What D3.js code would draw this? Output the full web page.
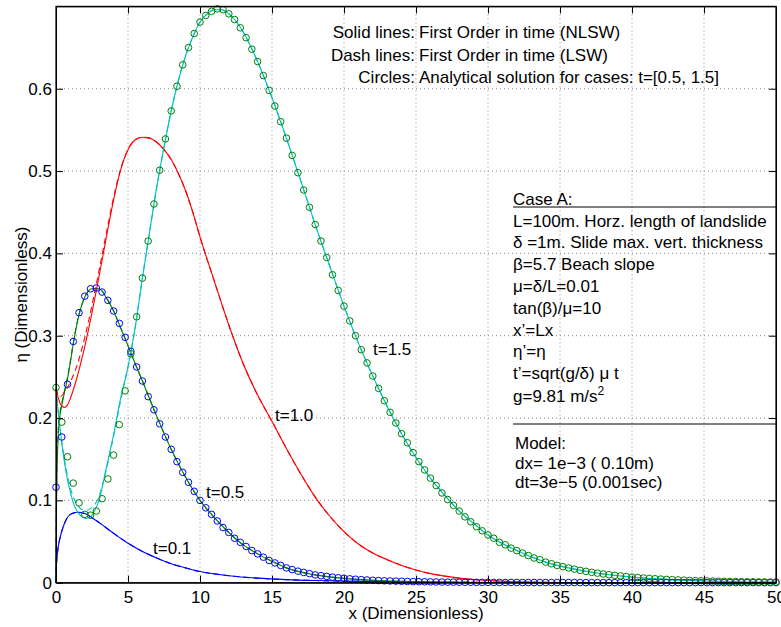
<!DOCTYPE html>
<html>
<head>
<meta charset="utf-8">
<script src="https://cdn.jsdelivr.net/npm/d3@7"></script>
<style>
  body { margin: 0; background: #fff; }
  text { font-family: "Liberation Sans", Arial, Helvetica, sans-serif; font-size: 17px; fill: #000; }
</style>
</head>
<body>
<div id="chart"></div>
<script>
// axis ticks
const xTicks = [0, 5, 10, 15, 20, 25, 30, 35, 40, 45, 50];
const yTicks = [0, 0.1, 0.2, 0.3, 0.4, 0.5, 0.6];

// NLSW solid lines
const t01X = [0, 0.02, 0.05, 0.1, 0.2, 0.3, 0.5, 0.75, 1.0, 1.5, 2, 2.5, 3, 4, 5, 6, 7, 8, 9, 10, 12, 14, 16, 18, 20, 25, 30, 40, 50];
const t01Y = [0, 0.018, 0.027, 0.036, 0.048, 0.056, 0.068, 0.078, 0.083, 0.0855, 0.084, 0.079, 0.073, 0.06, 0.048, 0.038, 0.030, 0.023, 0.018, 0.0135, 0.0085, 0.0055, 0.0037, 0.0026, 0.0019, 0.0008, 0.0003, 0.0001, 0];

const t05X = [0, 0.03, 0.08, 0.15, 0.25, 0.4, 0.6, 0.8, 1.0, 1.2, 1.5, 2, 2.5, 3, 3.5, 4, 4.5, 5, 5.5, 6, 7, 8, 9, 10, 11, 12, 13, 14, 15, 16, 18, 20, 22, 25, 30, 35, 40, 50];
const t05Y = [0, 0.08, 0.14, 0.178, 0.2, 0.215, 0.232, 0.248, 0.268, 0.29, 0.318, 0.347, 0.357, 0.357, 0.346, 0.330, 0.309, 0.288, 0.266, 0.245, 0.202, 0.162, 0.128, 0.100, 0.079, 0.061, 0.046, 0.035, 0.026, 0.018, 0.0095, 0.0053, 0.0029, 0.0012, 0.0003, 0.0001, 0, 0];

const t10X = [0, 0.15, 0.3, 0.45, 0.6, 0.8, 1.0, 1.5, 2, 2.5, 3, 3.5, 4, 4.5, 5, 5.5, 6, 6.5, 7, 7.5, 8, 8.5, 9, 9.5, 10, 11, 12, 13, 14, 15, 16, 17, 18, 19, 20, 21, 22, 23, 24, 25, 26, 27, 28, 29, 30, 32, 35, 40, 50];
const t10Y = [0.236, 0.225, 0.217, 0.214, 0.213, 0.216, 0.224, 0.252, 0.287, 0.328, 0.373, 0.420, 0.465, 0.502, 0.526, 0.538, 0.541, 0.540, 0.535, 0.526, 0.514, 0.497, 0.476, 0.450, 0.420, 0.366, 0.313, 0.266, 0.228, 0.196, 0.163, 0.132, 0.104, 0.081, 0.062, 0.047, 0.036, 0.028, 0.021, 0.0155, 0.011, 0.008, 0.0056, 0.0038, 0.0026, 0.0011, 0.0003, 0, 0];

const t15X = [0, 0.2, 0.4, 0.6, 0.8, 1.0, 1.2, 1.5, 1.8, 2.1, 2.4, 2.7, 3.0, 3.5, 4.0, 4.5, 5.0, 5.5, 6, 6.5, 7, 7.5, 8, 8.5, 9, 9.5, 10, 10.5, 11, 11.5, 12, 12.5, 13, 14, 15, 16, 17, 18, 19, 20, 21, 22, 23, 24, 25, 26, 27, 28, 29, 30, 32, 34, 36, 38, 40, 42, 45, 50];
const t15Y = [0.235, 0.2, 0.17, 0.145, 0.125, 0.11, 0.097, 0.086, 0.08, 0.078, 0.08, 0.088, 0.101, 0.14, 0.18, 0.225, 0.262, 0.31, 0.37, 0.426, 0.481, 0.529, 0.573, 0.610, 0.640, 0.663, 0.681, 0.691, 0.696, 0.696, 0.691, 0.682, 0.669, 0.633, 0.589, 0.540, 0.488, 0.435, 0.385, 0.336, 0.291, 0.251, 0.214, 0.181, 0.152, 0.127, 0.106, 0.087, 0.072, 0.058, 0.039, 0.025, 0.0165, 0.0106, 0.0068, 0.0044, 0.0021, 0.0008];

// LSW dashed lines: they only part from the solid ones near the shore
const lsw05Y = [0, 0.1, 0.15, 0.185, 0.203, 0.218, 0.234, 0.25, 0.27, 0.291, 0.319, 0.347, 0.357, 0.357, 0.346, 0.330, 0.309, 0.288, 0.266, 0.245, 0.202, 0.162, 0.128, 0.100, 0.079, 0.061, 0.046, 0.035, 0.026, 0.018, 0.0095, 0.0053, 0.0029, 0.0012, 0.0003, 0.0001, 0, 0];
const lsw10Y = [0.236, 0.228, 0.226, 0.228, 0.232, 0.237, 0.244, 0.266, 0.298, 0.337, 0.380, 0.425, 0.468, 0.503, 0.526, 0.538, 0.541, 0.540, 0.535, 0.526, 0.514, 0.497, 0.476, 0.450, 0.420, 0.366, 0.313, 0.266, 0.228, 0.196, 0.163, 0.132, 0.104, 0.081, 0.062, 0.047, 0.036, 0.028, 0.021, 0.0155, 0.011, 0.008, 0.0056, 0.0038, 0.0026, 0.0011, 0.0003, 0, 0];
const lsw15Y = [0.235, 0.2, 0.172, 0.148, 0.13, 0.115, 0.104, 0.094, 0.089, 0.088, 0.09, 0.095, 0.106, 0.138, 0.178, 0.222, 0.262, 0.31, 0.37, 0.426, 0.481, 0.529, 0.573, 0.610, 0.640, 0.663, 0.681, 0.691, 0.696, 0.696, 0.691, 0.682, 0.669, 0.633, 0.589, 0.540, 0.488, 0.435, 0.385, 0.336, 0.291, 0.251, 0.214, 0.181, 0.152, 0.127, 0.106, 0.087, 0.072, 0.058, 0.039, 0.025, 0.0165, 0.0106, 0.0068, 0.0044, 0.0021, 0.0008];

// analytical solution, sampled every 0.4 from x = 0 to 50
const circleStep = 0.4;
const exact05 = [
  0.116, 0.177, 0.241, 0.293, 0.328, 0.348, 0.357, 0.358, 0.353, 0.343,
  0.330, 0.315, 0.298, 0.281, 0.262, 0.245, 0.226, 0.210, 0.193, 0.177,
  0.162, 0.147, 0.134, 0.122, 0.111, 0.100, 0.091, 0.083, 0.075, 0.067,
  0.061, 0.054, 0.049, 0.044, 0.039, 0.035, 0.031, 0.027, 0.024, 0.021,
  0.018, 0.016, 0.014, 0.0125, 0.011, 0.0095, 0.0085, 0.0076, 0.0067, 0.006,
  0.0053, 0.0047, 0.0042, 0.0037, 0.0033, 0.0029, 0.0026, 0.0023, 0.0021, 0.0019,
  0.0017, 0.0015, 0.0013, 0.0012, 0.0011, 0.001, 0.0009, 0.0008, 0.0007, 0.0007,
  0.0006, 0.0005, 0.0005, 0.0004, 0.0004, 0.0004, 0.0003, 0.0003, 0.0003, 0.0003,
  0.0003, 0.0002, 0.0002, 0.0002, 0.0002, 0.0002, 0.0002, 0.0002, 0.0002, 0.0002,
  0.0002, 0.0001, 0.0001, 0.0001, 0.0001, 0.0001, 0.0001, 0.0001, 0.0001, 0.0001,
  0.0001, 0.0001, 0.0001, 0.0001, 0.0001, 0.0001, 0.0001, 0.0001, 0.0001, 0.0001,
  0.0001, 0.0001, 0.0001, 0.0001, 0.0001, 0.0001, 0.0001, 0.0001, 0.0001, 0.0001,
  0.0001, 0.0001, 0.0001, 0.0001, 0.0001, 0.0001
];
const exact15 = [
  0.237, 0.195, 0.153, 0.121, 0.097, 0.083, 0.082, 0.087, 0.102, 0.126,
  0.155, 0.192, 0.233, 0.278, 0.323, 0.370, 0.415, 0.460, 0.501, 0.539,
  0.573, 0.603, 0.629, 0.650, 0.667, 0.681, 0.689, 0.694, 0.697, 0.696,
  0.691, 0.684, 0.674, 0.662, 0.648, 0.633, 0.616, 0.598, 0.579, 0.560,
  0.540, 0.519, 0.498, 0.477, 0.456, 0.435, 0.415, 0.395, 0.374, 0.355,
  0.336, 0.318, 0.300, 0.283, 0.267, 0.251, 0.236, 0.221, 0.207, 0.194,
  0.181, 0.170, 0.158, 0.147, 0.137, 0.127, 0.118, 0.109, 0.101, 0.094,
  0.087, 0.080, 0.074, 0.068, 0.063, 0.058, 0.054, 0.049, 0.046, 0.042,
  0.039, 0.036, 0.033, 0.030, 0.028, 0.025, 0.023, 0.021, 0.0195, 0.018,
  0.0165, 0.015, 0.0138, 0.0126, 0.0116, 0.0106, 0.0097, 0.0089, 0.0082, 0.0075,
  0.0068, 0.0063, 0.0057, 0.0052, 0.0048, 0.0044, 0.004, 0.0037, 0.0034, 0.0031,
  0.0028, 0.0026, 0.0024, 0.0022, 0.002, 0.0018, 0.0017, 0.0015, 0.0014, 0.0013,
  0.0012, 0.0011, 0.001, 0.0009, 0.0008, 0.0008
];

const infoLines = ["Case A:", "L=100m. Horz. length of landslide", "δ =1m. Slide max. vert. thickness",
  "β=5.7 Beach slope", "μ=δ/L=0.01", "tan(β)/μ=10", "x’=Lx", "η’=η", "t’=sqrt(g/δ) μ t"];
const modelLines = ["Model:", "dx= 1e−3 ( 0.10m)", "dt=3e−5 (0.001sec)"];
const headLines = [
  ["Solid lines:", "First Order in time (NLSW)"],
  ["Dash lines:", "First Order in time (LSW)"],
  ["Circles:", "Analytical solution for cases: t=[0.5, 1.5]"]
];

const width = 781, height = 627;
const mLeft = 56, mRight = 776, mTop = 6.4, mBottom = 582.7;

const svg = d3.select("#chart").append("svg")
  .attr("width", width)
  .attr("height", height);

const x = d3.scaleLinear().domain([0, 50]).range([mLeft, mRight]);
const y = d3.scaleLinear().domain([0, 0.7]).range([mBottom, mTop]);

// dotted grid
const grid = svg.append("g")
  .attr("stroke", "#888")
  .attr("stroke-width", 1)
  .attr("stroke-dasharray", "1,3");
grid.selectAll(".gx").data(xTicks.slice(1, -1)).enter().append("line")
  .attr("x1", d => x(d)).attr("x2", d => x(d))
  .attr("y1", mTop).attr("y2", mBottom);
grid.selectAll(".gy").data(yTicks.slice(1)).enter().append("line")
  .attr("x1", mLeft).attr("x2", mRight)
  .attr("y1", d => y(d)).attr("y2", d => y(d));

// curves
const line = d3.line()
  .x(d => x(d[0]))
  .y(d => y(d[1]))
  .curve(d3.curveMonotoneX);

const series = [
  { xs: t01X, ys: t01Y, color: "#0000ff", dash: null },
  { xs: t05X, ys: t05Y, color: "#008000", dash: null },
  { xs: t10X, ys: t10Y, color: "#ff0000", dash: null },
  { xs: t15X, ys: t15Y, color: "#00bfbf", dash: null },
  { xs: t01X, ys: t01Y, color: "#0000ff", dash: "6,4" },
  { xs: t05X, ys: lsw05Y, color: "#008000", dash: "6,4" },
  { xs: t10X, ys: lsw10Y, color: "#ff0000", dash: "6,4" },
  { xs: t15X, ys: lsw15Y, color: "#00bfbf", dash: "6,4" }
];

svg.append("g").selectAll("path")
  .data(series)
  .enter().append("path")
  .attr("d", s => line(s.xs.map((v, i) => [v, s.ys[i]])))
  .attr("fill", "none")
  .attr("stroke", s => s.color)
  .attr("stroke-width", 1.1)
  .attr("stroke-dasharray", s => s.dash);

// analytical circles
const circleSets = [
  { ys: exact05, color: "#0000ff" },
  { ys: exact15, color: "#008000" }
];
circleSets.forEach(set => {
  svg.append("g").selectAll("circle")
    .data(set.ys)
    .enter().append("circle")
    .attr("cx", (d, i) => x(i * circleStep))
    .attr("cy", d => y(d))
    .attr("r", 3.3)
    .attr("fill", "none")
    .attr("stroke", set.color)
    .attr("stroke-width", 1);
});

// axes, ticks pointing inward like matlab
const fmt = d3.format("~g");
svg.append("g")
  .attr("transform", `translate(0,${mBottom})`)
  .call(d3.axisBottom(x).tickValues(xTicks).tickSizeInner(-7).tickSizeOuter(0).tickPadding(8).tickFormat(fmt));
svg.append("g")
  .attr("transform", `translate(${mLeft},0)`)
  .call(d3.axisLeft(y).tickValues(yTicks).tickSizeInner(-7).tickSizeOuter(0).tickPadding(4).tickFormat(fmt));
svg.append("g")
  .attr("transform", `translate(0,${mTop})`)
  .call(d3.axisTop(x).tickValues(xTicks).tickSizeInner(-7).tickSizeOuter(0).tickFormat(""));
svg.append("g")
  .attr("transform", `translate(${mRight},0)`)
  .call(d3.axisRight(y).tickValues(yTicks).tickSizeInner(-7).tickSizeOuter(0).tickFormat(""));

svg.selectAll(".tick text")
  .attr("font-size", 17)
  .attr("font-family", "Liberation Sans, Arial, sans-serif");
svg.selectAll(".domain").attr("stroke", "#000");

svg.append("rect")
  .attr("x", mLeft).attr("y", mTop)
  .attr("width", mRight - mLeft).attr("height", mBottom - mTop)
  .attr("fill", "none").attr("stroke", "#000").attr("stroke-width", 1.2);

// axis titles
svg.append("text")
  .attr("x", (mLeft + mRight) / 2).attr("y", 619)
  .attr("text-anchor", "middle")
  .text("x (Dimensionless)");
svg.append("text")
  .attr("transform", `translate(27,${(mTop + mBottom) / 2}) rotate(-90)`)
  .attr("text-anchor", "middle")
  .text("η (Dimensionless)");

// curve labels
const curveLabels = [
  { text: "t=0.1", x: 153, y: 554 },
  { text: "t=0.5", x: 206, y: 498 },
  { text: "t=1.0", x: 275, y: 421 },
  { text: "t=1.5", x: 373, y: 355 }
];
svg.selectAll(".clabel").data(curveLabels).enter().append("text")
  .attr("x", d => d.x).attr("y", d => d.y)
  .text(d => d.text);

// header lines, lined up on the colon
headLines.forEach((h, i) => {
  const yy = 38 + i * 22.5;
  svg.append("text").attr("x", 415).attr("y", yy).attr("text-anchor", "end").text(h[0]);
  svg.append("text").attr("x", 419).attr("y", yy).text(h[1]);
});

// case description box
const infoBase = [205, 227, 248, 270, 292, 314, 336, 357, 379];
infoLines.forEach((t, i) => {
  svg.append("text").attr("x", 513).attr("y", infoBase[i]).text(t);
});
const gText = svg.append("text").attr("x", 513).attr("y", 402);
gText.append("tspan").text("g=9.81 m/s");
gText.append("tspan").attr("dy", -7).attr("font-size", 12).text("2");

svg.append("line")
  .attr("x1", 513).attr("x2", mRight)
  .attr("y1", 207).attr("y2", 207)
  .attr("stroke", "#000");
svg.append("line")
  .attr("x1", 513).attr("x2", mRight)
  .attr("y1", 424).attr("y2", 424)
  .attr("stroke", "#000");

modelLines.forEach((t, i) => {
  svg.append("text").attr("x", 515).attr("y", 449 + i * 19.5).text(t);
});
</script>
</body>
</html>
